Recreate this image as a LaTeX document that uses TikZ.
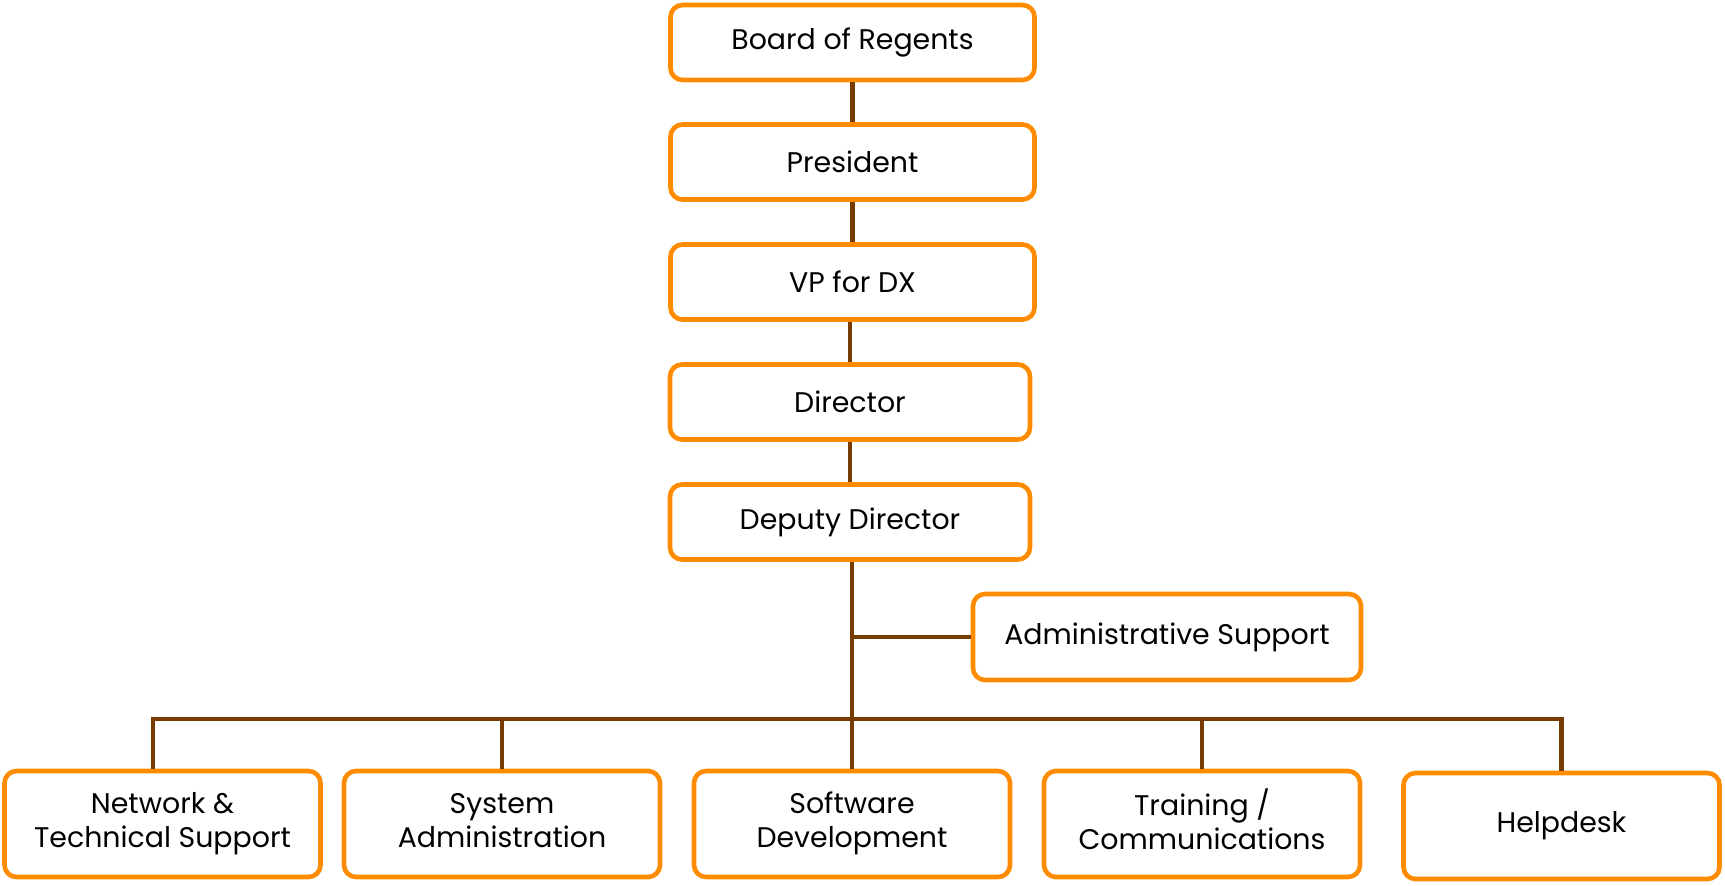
\documentclass[tikz,border=0pt]{standalone}
\usepackage{fontspec}
\setmainfont{Poppins}
\usepackage{tikz}
\definecolor{boxorange}{RGB}{255,140,0}
\definecolor{linkbrown}{RGB}{120,60,0}
\tikzset{
  box/.style={draw=boxorange, line width=2.3pt, rounded corners=6pt, fill=white,
    align=center, inner sep=0pt, font=\fontsize{14.2}{17}\selectfont},
  link/.style={draw=linkbrown, line width=2.1pt},
}
\begin{document}
\begin{tikzpicture}[x=0.5pt, y=-0.5pt]
			\useasboundingbox (0,0) rectangle (1725,885);
			% chain at the top
			\node [box, minimum width=182pt, minimum height=37.5pt] (board) at (852.5, 42.5) {Board of Regents};
			\node [box, minimum width=182pt, minimum height=37.5pt] (pres) at (852.5, 162) {President};
			\node [box, minimum width=182pt, minimum height=37.5pt] (vp) at (852.5, 282) {VP for DX};
			\node [box, minimum width=180pt, minimum height=37.5pt] (dir) at (850, 402) {Director};
			\node [box, minimum width=180pt, minimum height=37.5pt] (dep) at (850, 522) {Deputy Director};
			\node [box, minimum width=194pt, minimum height=43pt] (admin) at (1167, 637) {Administrative Support};
			% units
			\node [box, minimum width=158pt, minimum height=53pt] (net) at (162.5, 824) {\strut Network \&\\Technical Support\strut};
			\node [box, minimum width=158pt, minimum height=53pt] (sys) at (502, 824) {\strut System\\Administration\strut};
			\node [box, minimum width=158pt, minimum height=53pt] (soft) at (852, 824) {\strut Software\\Development\strut};
			\node [box, minimum width=158pt, minimum height=53pt] (train) at (1202, 824) {\strut Training /\\Communications\strut};
			\node [box, minimum width=158pt, minimum height=53pt] (help) at (1561.5, 826) {Helpdesk};
			\coordinate (bus) at (852, 719);
			\coordinate (netdrop) at (153, 0);
			\draw [link] (board) -- (pres);
			\draw [link] (pres) -- (vp);
			\draw [link] (vp.south -| dir.north) -- (dir.north);
			\draw [link] (dir) -- (dep);
			\draw [link] (dep.south -| soft.north) -- (soft.north);
			\draw [link] (admin.west) -- (admin.west -| soft.north);
			\draw [link] (netdrop |- net.north) |- (bus) -| (help.north);
			\draw [link] (sys.north) -- (sys.north |- bus);
			\draw [link] (train.north) -- (train.north |- bus);
		\end{tikzpicture}
\end{document}
